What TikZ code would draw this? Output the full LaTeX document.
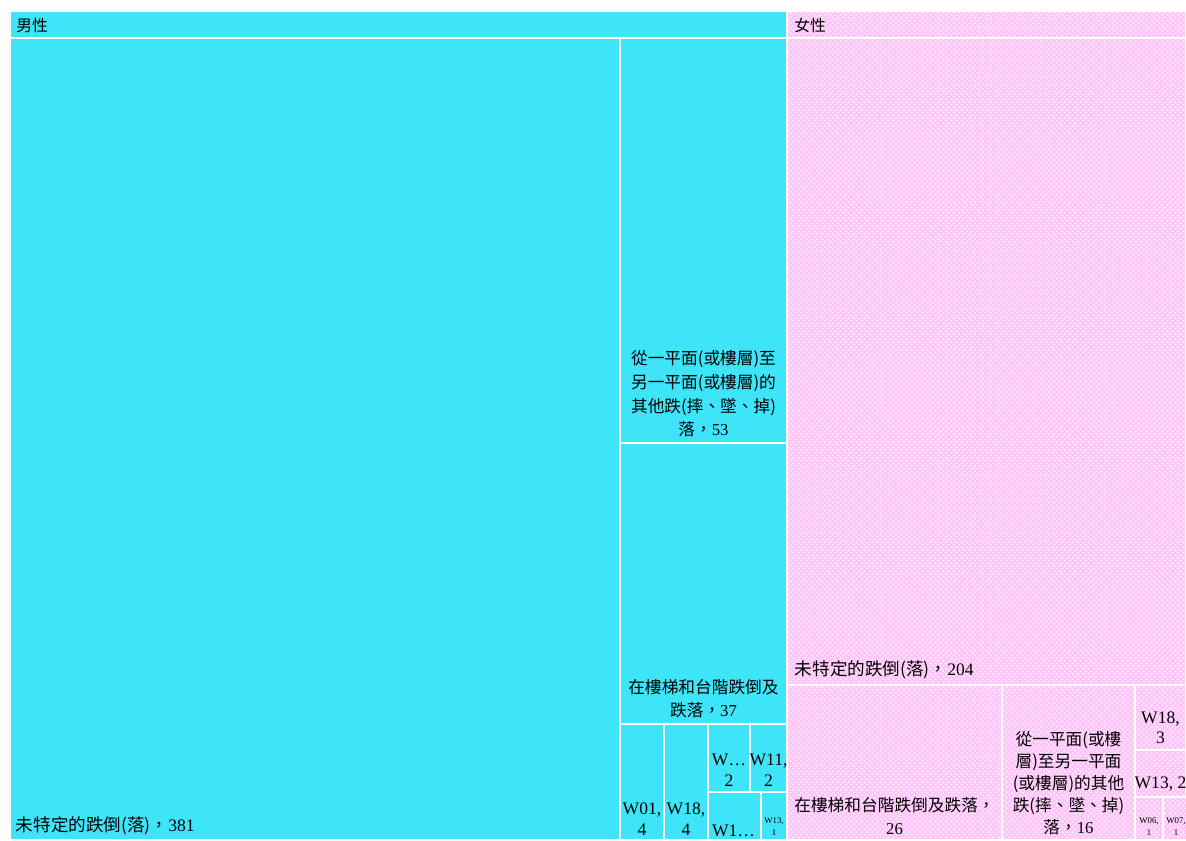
\documentclass[tikz,border=0pt]{standalone}
\usepackage{fontspec}
\setmainfont{Liberation Serif}
\newfontfamily\cjk{Noto Sans CJK TC}
\usepackage{xcolor}
\usetikzlibrary{patterns}
\definecolor{malefill}{RGB}{62,228,247}
\definecolor{femfill}{RGB}{255,198,250}

\begin{document}
\begin{tikzpicture}[x=0.02cm, y=-0.02cm,
        cell/.style={draw=white, line width=1pt},
        male/.style={cell, fill=malefill},
        female/.style={cell, preaction={fill=femfill}, pattern=crosshatch dots, pattern color=white},
        head/.style={anchor=west, inner sep=0pt, font=\cjk\fontsize{9}{11}\selectfont},
        big/.style={anchor=south west, inner sep=2pt, font=\fontsize{10}{12}\selectfont},
        lbl/.style={anchor=south, inner sep=2pt, align=center, font=\fontsize{9.5}{13.5}\selectfont},
        wlbl/.style={anchor=south, inner sep=2pt, align=center, font=\fontsize{10}{11.5}\selectfont},
        tiny/.style={anchor=south, inner sep=1pt, align=center, font=\fontsize{5}{7}\selectfont}]
                        \useasboundingbox (0,0) rectangle (1186,840);
                        % header bars
                        \draw[male] (10,11) rectangle (787,38);
                        \draw[female] (787,11) rectangle (1186,38);
                        \node[head] (mhead) at (16,25) {男性};
                        \node[head] (fhead) at (794,25) {女性};
                        % male cells
                        \draw[male]
                        (10,38) rectangle (620,840)
                        (620,38) rectangle (787,443)
                        (620,443) rectangle (787,724)
                        (620,724) rectangle (664,840)
                        (664,724) rectangle (708,840)
                        (708,724) rectangle (750,792)
                        (750,724) rectangle (787,792)
                        (708,792) rectangle (761,840)
                        (761,792) rectangle (787,840);
                        % female cells
                        \draw[female]
                        (787,38) rectangle (1186,685)
                        (787,685) rectangle (1002,840)
                        (1002,685) rectangle (1135,840)
                        (1135,685) rectangle (1186,750)
                        (1135,750) rectangle (1186,797)
                        (1135,797) rectangle (1163,840)
                        (1163,797) rectangle (1190,840);
                        % male labels
                        \node[big] (m381) at (12,839) {{\cjk 未特定的跌倒(落)，}381};
                        \node[lbl] (m53) at (703.5,441) {\cjk 從一平面(或樓層)至\\\cjk 另一平面(或樓層)的\\\cjk 其他跌(摔、墜、掉)\\{\cjk 落，}53};
                        \node[lbl] (m37) at (703.5,722) {\cjk 在樓梯和台階跌倒及\\{\cjk 跌落，}37};
                        \node[wlbl] (mw01) at (642,839) {W01,\\4};
                        \node[wlbl] (mw18) at (686,839) {W18,\\4};
                        \node[wlbl] (mwx) at (729,790) {W\ldots\\2};
                        \node[wlbl] (mw11) at (768.5,790) {W11,\\2};
                        \node[wlbl, inner sep=1pt] (mw1x) at (733.5,839) {W1\ldots};
                        \node[tiny] (mw13) at (774,838) {W13,\\1};
                        % female labels
                        \node[big] (f204) at (791,683) {{\cjk 未特定的跌倒(落)，}204};
                        \node[lbl] (f26) at (894.5,839) {\cjk 在樓梯和台階跌倒及跌落，\\26};
                        \node[lbl, font=\fontsize{9.5}{12.5}\selectfont] (f16) at (1068.5,839) {\cjk 從一平面(或樓\\\cjk 層)至另一平面\\\cjk (或樓層)的其他\\\cjk 跌(摔、墜、掉)\\{\cjk 落，}16};
                        \node[wlbl] (fw18) at (1160.5,748) {W18,\\3};
                        \node[wlbl] (fw13) at (1160.5,795) {W13, 2};
                        \node[tiny] (fw06) at (1149,838) {W06,\\1};
                        \node[tiny] (fw07) at (1176,838) {W07,\\1};
                    \end{tikzpicture}
\end{document}
